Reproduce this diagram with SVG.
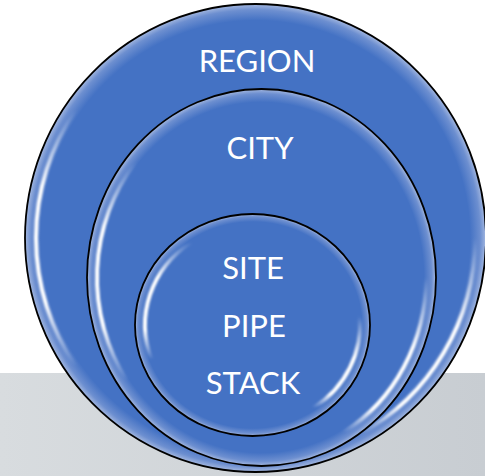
<svg xmlns="http://www.w3.org/2000/svg" width="485" height="476" viewBox="0 0 485 476">
  <defs>
    <linearGradient id="band" x1="0" y1="0" x2="1" y2="0">
      <stop offset="0" stop-color="#d8dcdf"/>
      <stop offset="1" stop-color="#c8cdd2"/>
    </linearGradient>
    <radialGradient id="disc" cx="0.5" cy="0.5" r="0.5">
      <stop offset="0" stop-color="#4472c4"/>
      <stop offset="0.93" stop-color="#4472c4"/>
      <stop offset="0.975" stop-color="#6d8fd0"/>
      <stop offset="1" stop-color="#a4b8e0"/>
    </radialGradient>
    <linearGradient id="hlLeft" x1="0" y1="0" x2="0" y2="1">
      <stop offset="0" stop-color="#ffffff" stop-opacity="0"/>
      <stop offset="0.3" stop-color="#ffffff" stop-opacity="1"/>
      <stop offset="0.75" stop-color="#ffffff" stop-opacity="1"/>
      <stop offset="1" stop-color="#ffffff" stop-opacity="0"/>
    </linearGradient>
    <linearGradient id="hlRight" x1="0" y1="0" x2="0" y2="1">
      <stop offset="0" stop-color="#ffffff" stop-opacity="0"/>
      <stop offset="0.45" stop-color="#ffffff" stop-opacity="1"/>
      <stop offset="0.85" stop-color="#ffffff" stop-opacity="1"/>
      <stop offset="1" stop-color="#ffffff" stop-opacity="0"/>
    </linearGradient>
    <filter id="soft" x="-20%" y="-20%" width="140%" height="140%">
      <feGaussianBlur stdDeviation="0.8"/>
    </filter>
  </defs>
  <style>
    .disc { fill: url(#disc); stroke: #000000; stroke-width: 1.8; }
    .hl-l { fill: none; stroke: url(#hlLeft); stroke-width: 4; stroke-linecap: round; filter: url(#soft); }
    .hl-r { fill: none; stroke: url(#hlRight); stroke-width: 4; stroke-linecap: round; filter: url(#soft); }
    .label { font-family: Lato, "Liberation Sans", sans-serif; font-size: 31px; fill: #ffffff; text-anchor: middle; }
  </style>

  <rect x="0" y="373" width="485" height="103" fill="url(#band)"/>

  <g id="region">
    <ellipse class="disc" cx="255.5" cy="238" rx="230.5" ry="234"/>
    <path class="hl-l" d="M75.7,110.1 A219.5,223 0 0 0 75.7,365.9"/>
    <path class="hl-r" d="M475,238 A219.5,223 0 0 1 358.6,434.9"/>
    <text class="label" x="257" y="72">REGION</text>
  </g>

  <g id="city">
    <ellipse class="disc" cx="261.5" cy="277.5" rx="174.5" ry="188.5"/>
    <path class="hl-l" d="M135.5,162.8 A164.5,178.5 0 0 0 126.7,379.9"/>
    <path class="hl-r" d="M426,277.5 A164.5,178.5 0 0 1 343.75,432.1"/>
    <text class="label" x="260" y="159">CITY</text>
  </g>

  <g id="site">
    <ellipse class="disc" cx="252.5" cy="325" rx="117.5" ry="111"/>
    <path class="hl-l" d="M190.8,242.3 A107.5,101 0 0 0 151.5,359.5"/>
    <path class="hl-r" d="M359.6,316.2 A107.5,101 0 0 1 314.2,407.7"/>
    <text class="label" x="253" y="279">SITE</text>
    <text class="label" x="254" y="337">PIPE</text>
    <text class="label" x="253" y="394">STACK</text>
  </g>

  <g id="connectors"/>
</svg>
